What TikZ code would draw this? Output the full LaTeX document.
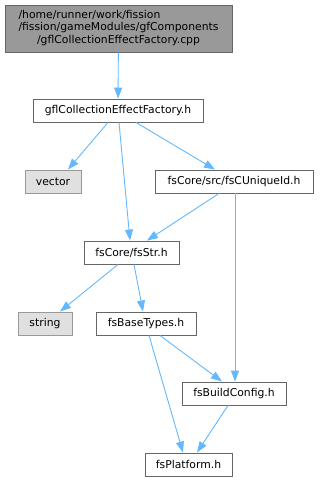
\documentclass[tikz,border=0pt]{standalone}
\usepackage{fontspec}
\setmainfont{DejaVu Sans}
\usepackage{tikz}
\usetikzlibrary{arrows.meta}
\definecolor{DGEdge}{HTML}{63B8FF}
\definecolor{DGLine}{HTML}{666666}
\definecolor{DGTop}{HTML}{999999}
\definecolor{DGExt}{HTML}{E0E0E0}

\begin{document}
\begin{tikzpicture}[x=1pt, y=-1pt,
      file/.style={rectangle, draw=DGLine, fill=white, line width=0.9pt,
                   minimum height=23pt, inner sep=0pt,
                   font=\fontsize{10.8}{12.5}\selectfont},
      sysfile/.style={file, draw=DGTop, fill=DGExt},
      topfile/.style={file, fill=DGTop},
      dep/.style={-{Triangle[length=11pt, width=8pt]}, DGEdge, line width=0.9pt}
    ]
    \useasboundingbox (0,0) rectangle (319,481);

    % Row 0: the source file
    \node[topfile, minimum width=227pt, minimum height=47pt] (cpp) at (118.5, 28.5)
      {\begin{tabular}{@{}l@{}}
        /home/runner/work/fission\\
        /fission/gameModules/gfComponents\\
        \multicolumn{1}{@{}c@{}}{/gflCollectionEffectFactory.cpp}
      \end{tabular}};

    % Row 1
    \node[file, minimum width=170pt] (factory) at (118, 110.5) {gflCollectionEffectFactory.h};

    % Row 2
    \node[sysfile, minimum width=56pt] (vector) at (53, 181.5) {vector};
    \node[file, minimum width=158pt] (uniqueid) at (234, 181.5) {fsCore/src/fsCUniqueId.h};

    % Row 3
    \node[file, minimum width=95pt] (str) at (131.5, 252.5) {fsCore/fsStr.h};

    % Row 4
    \node[sysfile, minimum width=54pt] (string) at (45, 323.5) {string};
    \node[file, minimum width=100pt] (basetypes) at (146, 323.5) {fsBaseTypes.h};

    % Row 5
    \node[file, minimum width=104pt] (buildcfg) at (234, 393.5) {fsBuildConfig.h};

    % Row 6
    \node[file, minimum width=87pt] (platform) at (188.5, 464.5) {fsPlatform.h};

    % Include edges
    \draw[dep] (cpp) -- (factory);
    \draw[dep] (factory.south -| 108,0) -- (vector.north -| 68,0);
    \draw[dep] (factory.south -| 119,0) -- (str.north -| 130,0);
    \draw[dep] (factory.south -| 136,0) -- (uniqueid.north -| 215,0);
    \draw[dep] (uniqueid.south -| 219,0) -- (str.north -| 147,0);
    \draw[dep] (uniqueid.south -| 235,0) -- (buildcfg.north -| 235,0);
    \draw[dep] (str.south -| 118,0) -- (string.north -| 60,0);
    \draw[dep] (str.south -| 134,0) -- (basetypes.north -| 143,0);
    \draw[dep] (basetypes.south -| 149,0) -- (platform.north -| 183,0);
    \draw[dep] (basetypes.south -| 160,0) -- (buildcfg.north -| 222,0);
    \draw[dep] (buildcfg.south -| 228,0) -- (platform.north -| 197,0);
\end{tikzpicture}
\end{document}
